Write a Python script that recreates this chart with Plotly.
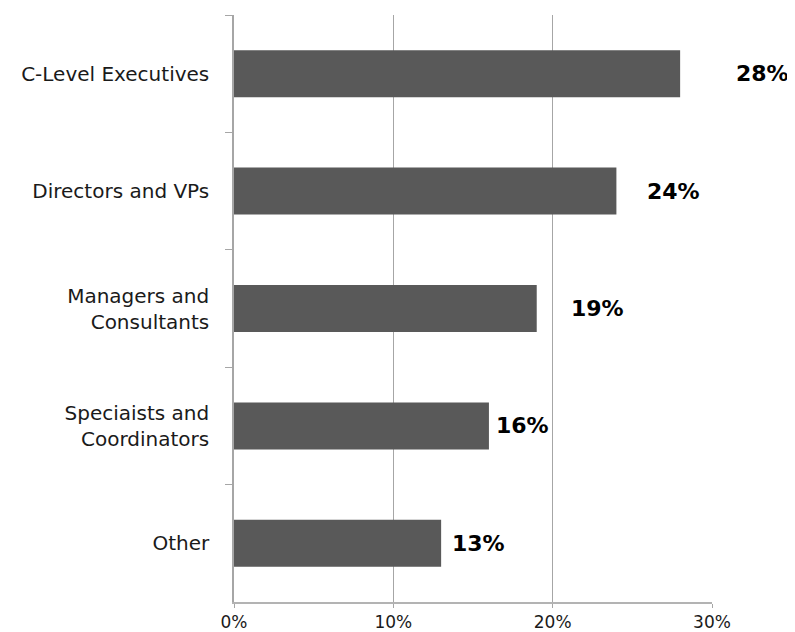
import plotly.graph_objects as go

categories = ["C-Level Executives", "Directors and VPs", "Managers and<br>Consultants",
              "Speciaists and<br>Coordinators", "Other"]
values = [0.28, 0.24, 0.19, 0.16, 0.13]
value_labels = ["28%", "24%", "19%", "16%", "13%"]
x_ticks = [0, 0.1, 0.2, 0.3]
x_tick_labels = ["0%", "10%", "20%", "30%"]

# label offsets (pixels beyond the bar end), styling only
label_shifts = [54, 29, 32, 5, 9]

fig = go.Figure(go.Bar(
    x=values, y=categories, orientation="h",
    marker=dict(color="#595959", line=dict(width=0)),
    width=0.4, hoverinfo="skip",
))

for v, lab, cat, sh in zip(values, value_labels, categories, label_shifts):
    fig.add_annotation(x=v, y=cat, text="<b>" + lab + "</b>", showarrow=False,
                       xanchor="left", yanchor="middle", xshift=sh,
                       font=dict(family="DejaVu Sans", size=22, color="#000000"))

fig.update_layout(
    width=787, height=624,
    margin=dict(l=226, r=83, t=7, b=30, autoexpand=False),
    plot_bgcolor="white", paper_bgcolor="white",
    showlegend=False,
    font=dict(family="DejaVu Sans", size=20, color="#1a1a1a"),
    xaxis=dict(range=[0, 0.3], tickvals=x_ticks, ticktext=x_tick_labels,
               showgrid=True, gridcolor="#a6a6a6", gridwidth=1,
               showline=True, linecolor="#b3b3b3", linewidth=1.5,
               ticks="outside", ticklen=4, tickcolor="#a6a6a6",
               zeroline=False, tickfont=dict(size=17), automargin=False),
    yaxis=dict(autorange="reversed", tickson="boundaries",
               showline=True, linecolor="#a6a6a6", linewidth=1.5,
               ticks="outside", ticklen=7, tickcolor="#a6a6a6",
               showgrid=False, ticklabelstandoff=19, tickfont=dict(size=20),
               automargin=False),
)

fig.write_html("out.html")
